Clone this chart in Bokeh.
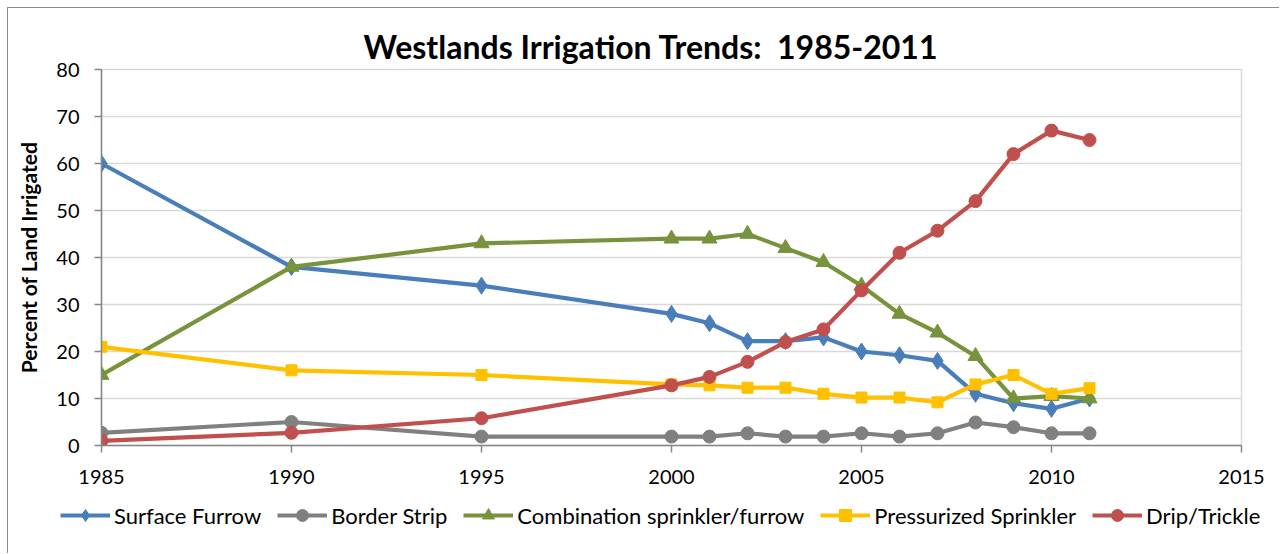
from bokeh.plotting import figure
from bokeh.models import Legend, LegendItem, FixedTicker, Range1d
from bokeh.embed import file_html
from bokeh.resources import INLINE

years = [1985, 1990, 1995, 2000, 2001, 2002, 2003, 2004, 2005, 2006, 2007, 2008, 2009, 2010, 2011]
surface_furrow = [60, 38, 34, 28, 26, 22.2, 22.2, 23, 20, 19.2, 18, 11, 9, 7.8, 10]
border_strip = [2.7, 5, 1.9, 1.9, 1.9, 2.6, 1.9, 1.9, 2.6, 1.9, 2.6, 4.9, 3.9, 2.6, 2.6]
combination = [15, 38, 43, 44, 44, 45, 42, 39, 34, 28, 24, 19, 10, 10.5, 10]
pressurized = [21, 16, 15, 13, 12.8, 12.3, 12.3, 11, 10.2, 10.2, 9.2, 13, 15, 11, 12.2]
drip = [1, 2.7, 5.8, 12.8, 14.6, 17.8, 22, 24.7, 33, 41, 45.7, 52, 62, 67, 65]

series_names = ["Surface Furrow", "Border Strip", "Combination sprinkler/furrow",
                "Pressurized Sprinkler", "Drip/Trickle"]
x_ticks = [1985, 1990, 1995, 2000, 2005, 2010, 2015]
y_ticks = [0, 10, 20, 30, 40, 50, 60, 70, 80]

FONT = "Lato"

p = figure(width=1272, height=489, output_backend="svg", toolbar_location=None,
           x_range=Range1d(1985, 2015), y_range=Range1d(0, 80),
           min_border_left=93, min_border_right=39, min_border_top=61, min_border_bottom=52)
p.styles = {"position": "absolute", "left": "7px", "top": "7px",
            "border-left": "1px solid #8c8c8c", "border-top": "1px solid #8c8c8c"}

p.title.text = "Westlands Irrigation Trends:\u00a0 1985-2011"
p.title.text_font = FONT
p.title.text_font_style = "bold"
p.title.text_font_size = "32px"
p.title.text_color = "black"
p.title.align = "left"
p.title.offset = 262
p.title.standoff = 8

p.outline_line_color = "#d9d9d9"
p.outline_line_width = 1.5
p.xgrid.grid_line_color = None
p.ygrid.grid_line_color = "#d9d9d9"
p.ygrid.grid_line_width = 1.5
p.ygrid.ticker = FixedTicker(ticks=y_ticks)

for ax in (p.xaxis[0], p.yaxis[0]):
    ax.axis_line_color = "#868686"
    ax.axis_line_width = 1.5
    ax.major_tick_line_color = "#868686"
    ax.major_tick_line_width = 1.5
    ax.major_tick_in = 0
    ax.major_tick_out = 7
    ax.minor_tick_line_color = None
    ax.major_label_text_font = FONT
    ax.major_label_text_font_size = "20px"
    ax.major_label_text_color = "black"

p.xaxis.major_label_standoff = 17
p.yaxis.major_label_standoff = 15
p.xaxis.ticker = FixedTicker(ticks=x_ticks)
p.yaxis.ticker = FixedTicker(ticks=y_ticks)
p.yaxis.axis_label = "Percent of Land Irrigated"
p.yaxis.axis_label_text_font = FONT
p.yaxis.axis_label_text_font_style = "bold"
p.yaxis.axis_label_text_font_size = "21px"
p.yaxis.axis_label_text_color = "black"
p.yaxis.axis_label_standoff = 12

specs = [
    (surface_furrow, "#4a7ebb", "diamond", 17),
    (border_strip, "#808080", "circle", 13),
    (combination, "#77933c", "triangle", 15),
    (pressurized, "#ffc000", "square", 11),
    (drip, "#c0504d", "circle", 13),
]

# legend strip below the chart (its own canvas, so the legend is not clipped)
leg = figure(width=1272, height=57, output_backend="svg", toolbar_location=None,
             x_axis_type=None, y_axis_type=None, min_border=0,
             x_range=Range1d(0, 1), y_range=Range1d(0, 1))
leg.styles = {"position": "absolute", "left": "7px", "top": "496px",
              "border-left": "1px solid #8c8c8c"}
leg.outline_line_color = None
leg.grid.visible = False

items = []
for name, (vals, color, marker, size) in zip(series_names, specs):
    p.line(years, vals, line_color=color, line_width=4.2)
    p.scatter(years, vals, marker=marker, size=size, fill_color=color, line_color=color)
    ln = leg.line(years, vals, line_color=color, line_width=4.2)
    sc = leg.scatter(years, vals, marker=marker, size=size, fill_color=color, line_color=color)
    items.append(LegendItem(label=name, renderers=[ln, sc]))

legend = Legend(items=items, orientation="horizontal", location=(52, 23),
                glyph_width=50, glyph_height=30, label_standoff=4, spacing=16,
                padding=0, margin=0, border_line_color=None, background_fill_alpha=0,
                label_text_font=FONT, label_text_font_size="22px", label_text_color="black")
leg.add_layout(legend, "center")

open("out.html", "w").write(file_html([p, leg], INLINE))
